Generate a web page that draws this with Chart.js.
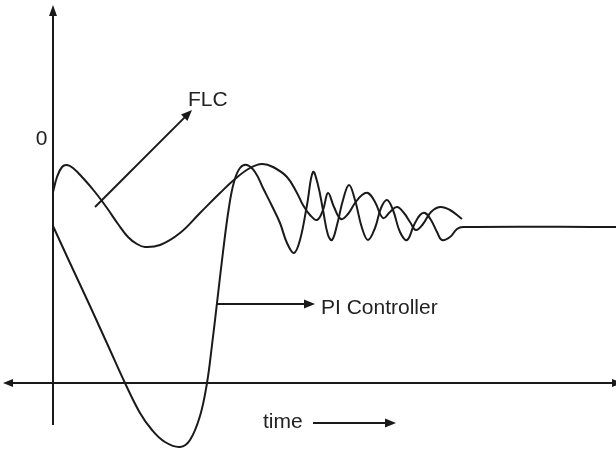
<!DOCTYPE html>
<html>
<head>
    <title>FLC vs PI Controller</title>
    <style>
        body { margin: 0; background: #ffffff; }
        canvas { display: block; }
    </style>
</head>
<body>
    <canvas id="responseChart" width="616" height="451"></canvas>
</body>
<script src="https://cdn.jsdelivr.net/npm/chart.js"></script>
<script>
    // FLC response (time, value)
    const flcTime = [0, 0.4, 0.9, 1.4, 2.0, 3.0, 4.2, 5.4, 6.5, 7.5, 8.4, 9.2, 10.7, 12.7, 14.7, 16.7,
        18.2, 19.7, 20.9, 22.0, 23.4, 24.4, 25.0, 25.7, 26.4, 27.0, 27.5, 28.1, 28.8, 29.5, 30.2,
        30.9, 31.5, 32.2, 33.0, 33.7, 34.4, 35.1, 35.7, 36.3, 37.0, 37.8, 38.7, 39.7, 40.9];
    const flcValue = [-5.3, -3.8, -2.8, -2.6, -2.9, -3.9, -5.3, -6.9, -8.5, -9.8, -10.5, -10.8, -10.6, -9.4, -7.4, -5.4,
        -4.0, -2.9, -2.5, -2.8, -3.8, -5.4, -6.6, -7.6, -8.1, -7.1, -5.4, -6.8, -8.0, -7.5, -6.4,
        -5.6, -5.4, -6.3, -7.9, -7.3, -6.8, -7.4, -8.3, -9.1, -8.5, -7.3, -6.8, -7.1, -8.0];

    // PI controller response (time, value)
    const piTime = [0, 1.7, 3.7, 5.7, 7.2, 8.7, 9.9, 11.2, 12.7, 13.7, 14.7, 15.4, 15.9, 16.4, 17.0, 17.6,
        18.1, 18.7, 19.4, 20.2, 21.0, 21.9, 22.7, 23.4, 24.1, 24.7, 25.4, 26.0, 26.5, 27.0, 27.5,
        27.9, 28.4, 29.0, 29.6, 30.2, 30.9, 31.5, 32.2, 32.8, 33.4, 34.0, 34.7, 35.4, 36.1, 36.7,
        37.2, 37.8, 38.4, 38.9, 39.7, 40.4, 41.0, 56.3];
    const piValue = [-8.7, -12.4, -16.7, -21.1, -24.4, -27.4, -29.1, -30.3, -30.8, -30.1, -27.7, -24.4, -20.6, -16.4, -11.3, -6.8,
        -4.3, -2.9, -2.6, -3.3, -4.9, -6.7, -8.4, -10.4, -11.4, -10.1, -6.6, -3.3, -4.6, -7.1, -9.6,
        -10.1, -8.6, -6.1, -4.6, -6.1, -8.9, -10.1, -8.9, -6.9, -6.1, -7.1, -9.3, -10.1, -8.6, -7.6,
        -7.4, -8.1, -9.3, -10.1, -9.8, -9.0, -8.8, -8.8];

    const yTickLabels = ["0"];

    const toPoints = (ts, vs) => ts.map((t, i) => ({x: t, y: vs[i]}));

    const ink = '#1a1a1a';
    const textColor = '#222222';
    const font = '21px "Liberation Sans", Arial, sans-serif';

    // axes, arrows and labels drawn in data units
    const axisSpec = {
        timeAxisAt: -24.4, timeFrom: -5.0, timeTo: 56.3,
        valueAxisFrom: -28.6, valueAxisTo: 13.4
    };
    const pointers = [
        {from: [4.2, -6.8], to: [13.9, 2.9]},     // FLC
        {from: [16.4, -16.5], to: [26.2, -16.5]}, // PI Controller
        {from: [26.0, -28.4], to: [34.3, -28.4]}  // time
    ];
    const captions = [
        {text: "FLC", at: [13.5, 3.3]},
        {text: "PI Controller", at: [26.8, -17.5]},
        {text: "time", at: [21.0, -28.9]}
    ];

    function arrowHead(ctx, x0, y0, x1, y1, len, half) {
        const a = Math.atan2(y1 - y0, x1 - x0);
        ctx.beginPath();
        ctx.moveTo(x1, y1);
        ctx.lineTo(x1 - len * Math.cos(a) + half * Math.sin(a), y1 - len * Math.sin(a) - half * Math.cos(a));
        ctx.lineTo(x1 - len * Math.cos(a) - half * Math.sin(a), y1 - len * Math.sin(a) + half * Math.cos(a));
        ctx.closePath();
        ctx.fill();
    }

    function arrowLine(ctx, x0, y0, x1, y1, len, half) {
        const a = Math.atan2(y1 - y0, x1 - x0);
        ctx.beginPath();
        ctx.moveTo(x0, y0);
        ctx.lineTo(x1 - (len - 2) * Math.cos(a), y1 - (len - 2) * Math.sin(a));
        ctx.stroke();
        arrowHead(ctx, x0, y0, x1, y1, len, half);
    }

    const guides = {
        id: 'guides',
        afterDatasetsDraw(chart) {
            const ctx = chart.ctx;
            const xs = chart.scales.x, ys = chart.scales.y;
            const px = t => xs.getPixelForValue(t);
            const py = v => ys.getPixelForValue(v);
            ctx.save();
            ctx.strokeStyle = ink;
            ctx.fillStyle = ink;
            ctx.lineWidth = 2;

            // vertical axis with arrow on top
            arrowLine(ctx, px(0), py(axisSpec.valueAxisFrom), px(0), py(axisSpec.valueAxisTo), 11, 4);

            // horizontal axis, arrows both ways
            const ay = py(axisSpec.timeAxisAt);
            ctx.beginPath();
            ctx.moveTo(px(axisSpec.timeFrom) + 8, ay);
            ctx.lineTo(px(axisSpec.timeTo) - 4, ay);
            ctx.stroke();
            arrowHead(ctx, px(0), ay, px(axisSpec.timeFrom), ay, 10, 4);
            arrowHead(ctx, px(0), ay, px(axisSpec.timeTo) + 6, ay, 10, 4);

            pointers.forEach(p => {
                arrowLine(ctx, px(p.from[0]), py(p.from[1]), px(p.to[0]), py(p.to[1]), 11, 4.5);
            });

            ctx.fillStyle = textColor;
            ctx.font = font;
            ctx.textAlign = 'left';
            ctx.textBaseline = 'alphabetic';
            captions.forEach(c => ctx.fillText(c.text, px(c.at[0]), py(c.at[1])));

            // the single value tick on the vertical axis
            ctx.textAlign = 'center';
            ctx.textBaseline = 'middle';
            ctx.fillText(yTickLabels[0], px(-1.15), py(0));
            ctx.restore();
        }
    };

    new Chart(document.getElementById('responseChart'), {
        type: 'line',
        data: {
            datasets: [
                {label: 'FLC', data: toPoints(flcTime, flcValue)},
                {label: 'PI Controller', data: toPoints(piTime, piValue)}
            ]
        },
        options: {
            responsive: false,
            animation: false,
            devicePixelRatio: 1,
            layout: {padding: 0},
            elements: {
                point: {radius: 0},
                line: {borderColor: ink, borderWidth: 2, tension: 0.4, fill: false}
            },
            plugins: {legend: {display: false}, tooltip: {enabled: false}},
            scales: {
                x: {type: 'linear', min: -5.3, max: 56.3, display: false},
                y: {type: 'linear', min: -31.2, max: 13.9, display: false}
            }
        },
        plugins: [guides]
    });
</script>
</html>
